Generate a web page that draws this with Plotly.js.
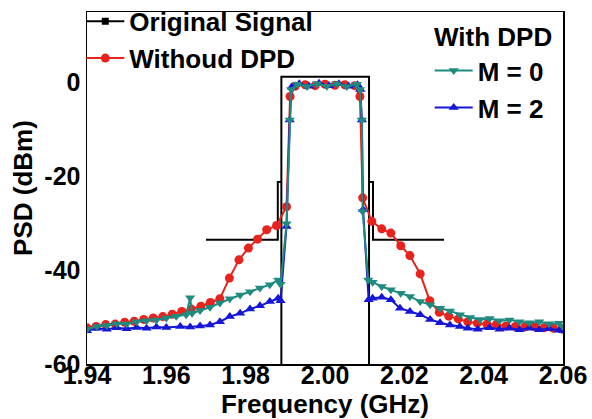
<!DOCTYPE html>
<html>
<head>
<meta charset="utf-8">
<script src="https://cdn.plot.ly/plotly-3.0.1.min.js"></script>
<style>
html,body{margin:0;padding:0;background:#fff;}
#chart{width:592px;height:419px;}
</style>
</head>
<body>
<div id="chart"></div>
<script>
// ---- data (frequency in GHz, PSD in dBm) ----
var freqOrig = [1.970, 1.9881, 1.9881, 1.9890, 1.9890, 1.9890, 2.0111, 2.0111, 2.0111, 2.0121, 2.0121, 2.030];
var psdOrig  = [-33.5, -33.5, -21.2, -21.2, -60, 1.2, 1.2, -60, -21.2, -21.2, -33.5, -33.5];

var freqNoDPD = [1.9400, 1.9423, 1.9447, 1.9471, 1.9495, 1.9519, 1.9543, 1.9567, 1.9591, 1.9615,
                 1.9639, 1.9663, 1.9687, 1.9711, 1.9735, 1.9759, 1.9783, 1.9807, 1.9830, 1.9853,
                 1.9878, 1.9903, 1.9912, 1.9925, 1.9950, 1.9975, 2.0000, 2.0025, 2.0050, 2.0075,
                 2.0088, 2.0095, 2.0118, 2.0143, 2.0166, 2.0191, 2.0214, 2.0240, 2.0264, 2.0288,
                 2.0312, 2.0336, 2.0360, 2.0384, 2.0408, 2.0432, 2.0456, 2.0480, 2.0504, 2.0528,
                 2.0552, 2.0576, 2.0600];
var psdNoDPD  = [-52.3, -52.0, -51.6, -51.5, -51.1, -50.9, -50.5, -50.2, -49.9, -49.4,
                 -48.8, -48.3, -47.7, -46.9, -46.1, -41.7, -37.8, -35.3, -33.4, -31.4,
                 -30.5, -26.5, -3.0, -0.8, -0.5, -0.7, -0.4, -0.6, -0.5, -0.7,
                 -3.0, -24.6, -29.6, -31.2, -32.1, -34.8, -36.9, -40.8, -46.5, -49.0,
                 -49.8, -50.4, -51.0, -51.3, -51.5, -51.6, -51.9, -52.0, -52.1, -52.0,
                 -52.3, -52.4, -52.6];

var freqM0 = [1.9400, 1.9425, 1.9450, 1.9475, 1.9500, 1.9525, 1.9550, 1.9575, 1.9600, 1.9625,
              1.9650, 1.9660, 1.9665, 1.9685, 1.9710, 1.9735, 1.9760, 1.9786, 1.9811, 1.9836,
              1.9861, 1.9882, 1.9888, 1.9903, 1.9911, 1.9915, 1.9930, 1.9955, 1.9980, 2.0005,
              2.0030, 2.0055, 2.0080, 2.0088, 2.0093, 2.0095, 2.0109, 2.0120, 2.0143, 2.0166,
              2.0191, 2.0214, 2.0240, 2.0265, 2.0290, 2.0315, 2.0340, 2.0366, 2.0391, 2.0415,
              2.0440, 2.0465, 2.0490, 2.0515, 2.0540, 2.0565, 2.0590, 2.0600];
var psdM0  = [-52.6, -52.0, -51.8, -51.4, -51.5, -51.0, -50.8, -50.6, -50.2, -49.8,
              -49.5, -45.9, -49.2, -48.6, -47.9, -47.0, -46.1, -45.3, -44.6, -43.8,
              -43.1, -42.1, -43.0, -30.1, -8.0, -1.5, -0.4, -0.9, -0.3, -0.8,
              -0.3, -0.9, -0.4, -1.5, -8.0, -27.5, -42.1, -42.6, -43.5, -44.2,
              -44.9, -45.6, -46.7, -47.4, -48.1, -48.7, -49.5, -50.1, -50.5, -50.3,
              -50.8, -50.6, -51.0, -51.2, -51.0, -51.4, -51.3, -52.0];

var freqM2 = [1.9400, 1.9425, 1.9450, 1.9475, 1.9500, 1.9525, 1.9550, 1.9575, 1.9600, 1.9635,
              1.9660, 1.9685, 1.9710, 1.9735, 1.9760, 1.9786, 1.9811, 1.9836, 1.9861, 1.9882,
              1.9888, 1.9903, 1.9911, 1.9916, 1.9935, 1.9960, 1.9985, 2.0010, 2.0035, 2.0060,
              2.0082, 2.0089, 2.0093, 2.0096, 2.0110, 2.0120, 2.0143, 2.0166, 2.0189, 2.0214,
              2.0240, 2.0265, 2.0290, 2.0315, 2.0340, 2.0360, 2.0385, 2.0415, 2.0440, 2.0465,
              2.0490, 2.0515, 2.0540, 2.0565, 2.0590, 2.0600];
var psdM2  = [-52.9, -52.4, -52.6, -52.3, -52.5, -52.2, -52.4, -52.1, -52.2, -52.0,
              -52.1, -51.9, -51.7, -51.0, -49.9, -49.2, -48.3, -47.6, -46.7, -46.0,
              -46.5, -30.7, -8.0, -1.0, -0.3, -0.8, -0.2, -0.7, -0.3, -0.8,
              -0.5, -1.5, -8.0, -27.1, -46.3, -46.0, -45.8, -46.3, -48.1, -48.8,
              -49.5, -50.5, -51.2, -51.7, -52.0, -52.4, -52.6, -52.3, -52.6, -52.4,
              -52.7, -52.4, -52.7, -52.5, -52.8, -52.9];

var xTickVals = [1.94, 1.96, 1.98, 2.00, 2.02, 2.04, 2.06];
var xTickText = ['1.94', '1.96', '1.98', '2.00', '2.02', '2.04', '2.06'];
var yTickVals = [-60, -40, -20, 0];
var yTickText = ['-60', '-40', '-20', '0'];

var names = ['Original Signal', 'Withoud DPD', 'M = 0', 'M = 2'];
var legend2Title = 'With DPD';

// ---- styles ----
var FONT = 'Liberation Sans, Arial, Helvetica, sans-serif';
var cBlack = '#000000', cRed = '#e8221c', cTeal = '#1f8a80', cBlue = '#1616d6';

var traces = [
  { x: freqOrig, y: psdOrig, mode: 'lines', line: {color: cBlack, width: 2},
    showlegend: false, hoverinfo: 'skip' },
  { x: [null], y: [null], xaxis: 'x2', mode: 'lines+markers', name: names[0],
    line: {color: cBlack, width: 2}, marker: {symbol: 'square', size: 7, color: cBlack},
    legend: 'legend', legendrank: 1 },
  { x: freqNoDPD, y: psdNoDPD, mode: 'lines+markers', name: names[1],
    line: {color: cRed, width: 2}, marker: {symbol: 'circle', size: 9, color: cRed},
    legend: 'legend', legendrank: 2 },
  { x: freqM2, y: psdM2, mode: 'lines+markers', name: names[3],
    line: {color: cBlue, width: 2}, marker: {symbol: 'triangle-up', size: 9, color: cBlue},
    legend: 'legend2', legendrank: 4 },
  { x: freqM0, y: psdM0, mode: 'lines+markers', name: names[2],
    line: {color: cTeal, width: 2}, marker: {symbol: 'triangle-down', size: 9, color: cTeal},
    legend: 'legend2', legendrank: 3 }
];

var tickFont = {family: FONT, size: 25, color: '#000', weight: 'bold'};
var titleFont = {family: FONT, size: 26, color: '#000', weight: 'bold'};
var legFont = {family: FONT, size: 26, color: '#000', weight: 'bold'};

var layout = {
  width: 592, height: 419,
  margin: {l: 87, r: 29, t: 12, b: 55, pad: 0, autoexpand: false},
  paper_bgcolor: '#fff', plot_bgcolor: '#fff',
  showlegend: true,
  xaxis: {
    range: [1.94, 2.06], tickmode: 'array', tickvals: xTickVals, ticktext: xTickText,
    showticklabels: false,
    showgrid: false, zeroline: false, showline: true, mirror: true,
    linecolor: '#000', linewidth: 1.5, ticks: '',
    title: {text: 'Frequency (GHz)', font: titleFont, standoff: 30},
    automargin: false
  },
  xaxis2: {
    overlaying: 'x', anchor: 'free', position: 0.017, side: 'bottom',
    range: [1.94, 2.06], tickmode: 'array', tickvals: xTickVals, ticktext: xTickText,
    showgrid: false, zeroline: false, showline: false, ticks: '', tickfont: tickFont,
    automargin: false
  },
  yaxis: {
    range: [-60, 15], tickmode: 'array', tickvals: yTickVals, ticktext: yTickText,
    showgrid: false, zeroline: false, showline: true, mirror: true,
    linecolor: '#000', linewidth: 1.5, ticks: '', tickfont: tickFont,
    title: {text: 'PSD (dBm)', font: titleFont, standoff: 4},
    automargin: false
  },
  legend: {
    x: -0.012, xanchor: 'left', y: 1.04, yanchor: 'top',
    bgcolor: 'rgba(0,0,0,0)', borderwidth: 0, font: legFont,
    itemwidth: 38, tracegroupgap: 0, traceorder: 'normal'
  },
  legend2: {
    x: 0.72, xanchor: 'left', y: 0.90, yanchor: 'top',
    bgcolor: 'rgba(0,0,0,0)', borderwidth: 0, font: legFont,
    itemwidth: 38, tracegroupgap: 0, traceorder: 'normal'
  },
  annotations: [{
    text: legend2Title, xref: 'paper', yref: 'paper', x: 0.725, y: 0.929,
    xanchor: 'left', yanchor: 'middle', showarrow: false, font: legFont
  }]
};

Plotly.newPlot('chart', traces, layout, {displayModeBar: false, staticPlot: true});
</script>
</body>
</html>
